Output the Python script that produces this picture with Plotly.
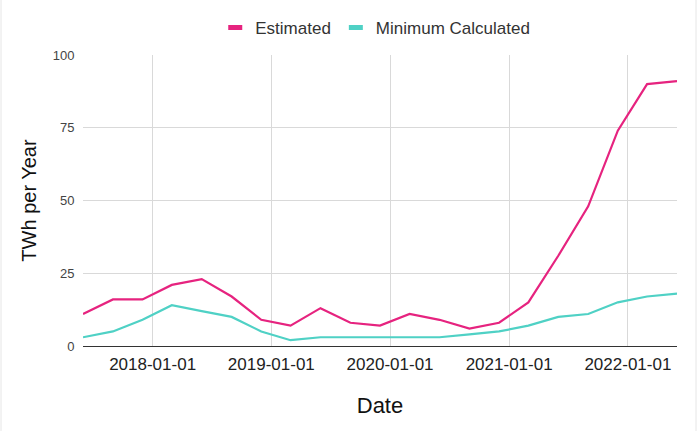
import plotly.graph_objects as go

dates = [
    "2017-06-01", "2017-09-01", "2017-12-01", "2018-03-01", "2018-06-01",
    "2018-09-01", "2018-12-01", "2019-03-01", "2019-06-01", "2019-09-01",
    "2019-12-01", "2020-03-01", "2020-06-01", "2020-09-01", "2020-12-01",
    "2021-03-01", "2021-06-01", "2021-09-01", "2021-12-01", "2022-03-01",
    "2022-06-01",
]
estimated = [11, 16, 16, 21, 23, 17, 9, 7, 13, 8, 7, 11, 9, 6, 8, 15, 31, 48, 74, 90, 91]
minimum_calculated = [3, 5, 9, 14, 12, 10, 5, 2, 3, 3, 3, 3, 3, 4, 5, 7, 10, 11, 15, 17, 18]

series_names = ["Estimated", "Minimum Calculated"]
series_colors = ["#e6237f", "#4fd1c5"]
x_tick_vals = ["2018-01-01", "2019-01-01", "2020-01-01", "2021-01-01", "2022-01-01"]
y_tick_vals = [0, 25, 50, 75, 100]

FONT = "Arial, 'Liberation Sans', sans-serif"

fig = go.Figure()
for name, vals, color in zip(series_names, [estimated, minimum_calculated], series_colors):
    fig.add_trace(go.Scatter(
        x=dates, y=vals, mode="lines", name=name,
        line=dict(color=color, width=2.2), showlegend=False,
    ))
    fig.add_trace(go.Scatter(
        x=[None], y=[None], mode="markers", name=name,
        marker=dict(symbol="line-ew", size=10, color=color,
                    line=dict(color=color, width=5)),
        showlegend=True,
    ))

fig.update_layout(
    width=699, height=431,
    margin=dict(l=83, r=22, t=55, b=85, autoexpand=False),
    paper_bgcolor="white", plot_bgcolor="white",
    font=dict(family=FONT, color="#444444"),
    legend=dict(
        orientation="h", x=0.492, xanchor="center", y=1.093, yanchor="middle",
        font=dict(size=17, color="#333333", family=FONT),
        itemwidth=30, traceorder="normal",
    ),
    xaxis=dict(
        type="date",
        range=["2017-06-01", "2022-06-01"],
        tickvals=x_tick_vals, ticktext=x_tick_vals,
        showgrid=True, gridcolor="#d9d9d9", gridwidth=1,
        showline=True, linecolor="#333333", linewidth=1,
        ticks="outside", ticklen=3, tickcolor="rgba(0,0,0,0)",
        tickfont=dict(size=17, color="#222222", family=FONT),
        title=dict(text="Date", font=dict(size=22, color="#111111", family=FONT), standoff=24),
        zeroline=False,
    ),
    yaxis=dict(
        range=[0, 100], tickvals=y_tick_vals,
        showgrid=True, gridcolor="#d9d9d9", gridwidth=1,
        showline=False, zeroline=False,
        ticks="outside", ticklen=5, tickcolor="rgba(0,0,0,0)",
        tickfont=dict(size=13, color="#444444", family=FONT),
        title=dict(text="TWh per Year", font=dict(size=20, color="#111111", family=FONT), standoff=10),
    ),
    shapes=[
        dict(type="line", xref="paper", yref="paper", x0=-0.138, x1=-0.138, y0=-0.292, y1=1.189,
             line=dict(color="#e6e6e6", width=1)),
        dict(type="line", xref="paper", yref="paper", x0=1.032, x1=1.032, y0=-0.292, y1=1.189,
             line=dict(color="#e6e6e6", width=1)),
    ],
)

fig.write_html("out.html", config={"displayModeBar": False},
               post_script="document.body.style.margin='0';")
